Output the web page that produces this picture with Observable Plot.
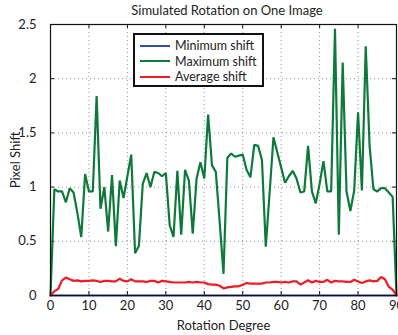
<!DOCTYPE html>
<html>
<head>
<meta charset="utf-8">
<script src="https://cdn.jsdelivr.net/npm/d3@7"></script>
<script src="https://cdn.jsdelivr.net/npm/@observablehq/plot@0.6"></script>
<style>
  html, body { margin: 0; padding: 0; background: #fff; }
  #wrap { position: relative; width: 398px; height: 335px; overflow: hidden; font-family: Lato, "Open Sans", sans-serif; }
  #title { position: absolute; left: 54px; width: 346px; top: 2px; text-align: center; font-size: 13px; color: #222; }
  #legend { position: absolute; left: 133px; top: 33px; width: 127px; height: 50px; border: 2px solid #111; background: #fff; font-size: 12.5px; color: #222; }
  .row { position: absolute; left: 5px; height: 15px; display: flex; align-items: center; }
  .sw { width: 30px; height: 0; border-top: 2px solid; margin-right: 5px; }
</style>
</head>
<body>
<div id="wrap">
  <div id="chart"></div>
  <div id="title"></div>
  <div id="legend"></div>
</div>
<script>
const titleText = "Simulated Rotation on One Image";
const xLabel = "Rotation Degree";
const yLabel = "Pixel Shift";
const seriesNames = ["Minimum shift", "Maximum shift", "Average shift"];
const seriesColors = ["#2e4fa3", "#0d7a3a", "#ee1c25"];
const xTicks = [0, 10, 20, 30, 40, 50, 60, 70, 80, 90];
const yTicks = [0, 0.5, 1, 1.5, 2, 2.5];
const yTickLabels = ["0", "0.5", "1", "1.5", "2", "2.5"];

const degrees = d3.range(0, 91);

const minShift = degrees.map(() => 0);

const maxShift = [
  0, 0.98, 0.96, 0.96, 0.86, 0.99, 0.95, 0.76, 0.54, 1.12,
  0.96, 0.96, 1.84, 0.80, 1.00, 0.59, 1.11, 0.455, 1.06, 0.90,
  1.10, 1.30, 0.39, 0.46, 1.03, 1.13, 1.00, 1.14, 1.13, 1.10,
  1.13, 0.65, 0.54, 1.15, 0.56, 1.16, 1.06, 0.57, 1.08, 1.23,
  1.08, 1.67, 1.20, 1.14, 0.68, 0.20, 1.27, 1.31, 1.28, 1.29,
  1.30, 1.16, 1.09, 1.39, 1.38, 1.25, 0.45, 0.95, 1.46, 1.32,
  1.18, 1.04, 1.10, 1.15, 1.08, 0.95, 0.96, 1.38, 0.96, 0.85,
  1.03, 1.24, 0.96, 0.96, 2.46, 0.56, 2.15, 0.96, 0.78, 0.97,
  1.69, 0.97, 2.30, 1.38, 0.98, 0.96, 0.99, 0.99, 0.95, 0.91,
  0
];

const avgShift = [
  0, 0.04, 0.06, 0.14, 0.165, 0.15, 0.135, 0.14, 0.13, 0.135,
  0.135, 0.14, 0.135, 0.125, 0.135, 0.135, 0.13, 0.13, 0.155, 0.135,
  0.13, 0.15, 0.13, 0.13, 0.13, 0.125, 0.135, 0.135, 0.12, 0.135,
  0.13, 0.125, 0.12, 0.12, 0.12, 0.12, 0.125, 0.12, 0.125, 0.12,
  0.12, 0.105, 0.1, 0.1, 0.09, 0.065, 0.075, 0.08, 0.085, 0.085,
  0.1, 0.115, 0.11, 0.11, 0.11, 0.11, 0.12, 0.12, 0.125, 0.125,
  0.12, 0.125, 0.12, 0.13, 0.13, 0.1, 0.12, 0.14, 0.12, 0.135,
  0.125, 0.125, 0.145, 0.12, 0.135, 0.13, 0.13, 0.125, 0.125, 0.145,
  0.13, 0.115, 0.13, 0.14, 0.13, 0.135, 0.17, 0.15, 0.08, 0.055,
  0
];

const seriesValues = [minShift, maxShift, avgShift];
const rows = [];
seriesValues.forEach((vals, s) => {
  vals.forEach((v, i) => rows.push({ deg: degrees[i], value: v, series: seriesNames[s] }));
});

const W = 398, H = 335;
const mTop = 24, mBottom = 40, mLeft = 50, mRight = 2;
const innerH = H - mTop - mBottom;
const innerW = W - mLeft - mRight;
const gridX = xTicks.slice(1, -1);
const gridY = yTicks.slice(1, -1);

const chart = Plot.plot({
  width: W,
  height: H,
  marginTop: mTop,
  marginBottom: mBottom,
  marginLeft: mLeft,
  marginRight: mRight,
  style: { fontFamily: "Lato, 'Open Sans', sans-serif", fontSize: "12.5px", color: "#222", background: "white" },
  x: { domain: [0, 90] },
  y: { domain: [0, 2.5] },
  color: { domain: seriesNames, range: seriesColors },
  marks: [
    Plot.ruleX(gridX, { stroke: "#666", strokeWidth: 1, strokeDasharray: "1,3", strokeOpacity: 0.7 }),
    Plot.ruleY(gridY, { stroke: "#666", strokeWidth: 1, strokeDasharray: "1,3", strokeOpacity: 0.7 }),
    Plot.ruleX(xTicks, { stroke: "#111", insetTop: innerH - 4 }),
    Plot.ruleX(xTicks, { stroke: "#111", insetBottom: innerH - 4 }),
    Plot.ruleY(yTicks, { stroke: "#111", insetRight: innerW - 4 }),
    Plot.ruleY(yTicks, { stroke: "#111", insetLeft: innerW - 4 }),
    Plot.line(rows, { x: "deg", y: "value", z: "series", stroke: "series", strokeWidth: 2.2, strokeLinejoin: "miter" }),
    Plot.frame({ stroke: "#111", strokeWidth: 1.2 }),
    Plot.axisX({ ticks: xTicks, tickSize: 0, tickPadding: 5, tickFormat: d => String(d), label: xLabel, labelAnchor: "center", labelOffset: 34, labelArrow: "none", fontSize: 13 }),
    Plot.axisY({ ticks: yTicks, tickSize: 0, tickPadding: 14, tickFormat: d => yTickLabels[yTicks.indexOf(d)], label: yLabel, labelAnchor: "center", labelOffset: 40, labelArrow: "none", fontSize: 13 })
  ]
});
document.getElementById("chart").appendChild(chart);

document.getElementById("title").textContent = titleText;
const legend = document.getElementById("legend");
seriesNames.forEach((name, i) => {
  const row = document.createElement("div");
  row.className = "row";
  row.style.top = (3 + i * 15.5) + "px";
  const sw = document.createElement("div");
  sw.className = "sw";
  sw.style.borderColor = seriesColors[i];
  const label = document.createElement("span");
  label.textContent = name;
  row.appendChild(sw);
  row.appendChild(label);
  legend.appendChild(row);
});
</script>
</body>
</html>
